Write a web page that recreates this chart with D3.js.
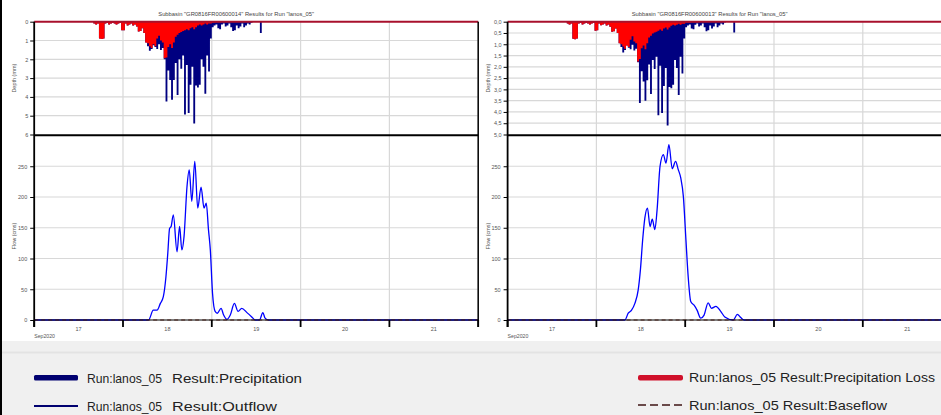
<!DOCTYPE html>
<html>
<head>
<meta charset="utf-8">
<script src="https://cdn.jsdelivr.net/npm/d3@7"></script>
<style>
  body { margin: 0; background: #fff; }
  svg { display: block; font-family: "Liberation Sans", Arial, sans-serif; }
</style>
</head>
<body>
<svg id="chart" width="941" height="415"></svg>
<script>
// ---- data ----
const days = ["17", "18", "19", "20", "21"];
const monthLabel = "Sep2020";
const hyetoStartHour = 16;   // first half-hour interval, hours after 17 Sep 00:00
const hyetoStepMin = 30;

// subbasin GR0816FR00600014, incremental depth per half hour (mm)
const precipA = [
  0.10, 0.15, 0.10, 0.90, 0.92, 0.90, 0.10, 0.05, 0.15, 0.10,
  0.05, 0.10, 0.15, 0.10, 0.05, 0.45, 0.45, 0.10, 0.20, 0.15,
  0.10, 0.20, 0.15, 0.25, 0.52, 0.50, 0.35, 0.60, 1.10, 1.30,
  1.55, 1.45, 1.25, 1.35, 1.45, 1.20, 1.50, 1.40, 2.00, 4.25,
  2.60, 3.10, 4.15, 3.10, 2.20, 3.90, 2.00, 2.50, 1.80, 4.94,
  2.30, 4.85, 3.35, 2.40, 5.42, 3.40, 3.50, 3.35, 2.00, 2.40,
  3.83, 1.80, 2.65, 0.90, 0.30, 0.20, 0.15, 0.35, 0.40, 0.15,
  0.10, 0.25, 0.20, 0.10, 0.30, 0.50, 0.45, 0.20, 0.35, 0.25,
  0.10, 0.30, 0.20, 0.10, 0.15, 0.05, 0, 0, 0, 0,
  0.60, 0
];
const lossA = [
  0.10, 0.15, 0.10, 0.90, 0.92, 0.90, 0.10, 0.05, 0.15, 0.10,
  0.05, 0.10, 0.15, 0.10, 0.05, 0.45, 0.45, 0.10, 0.20, 0.15,
  0.10, 0.20, 0.15, 0.25, 0.52, 0.50, 0.35, 0.60, 1.10, 1.15,
  1.30, 1.40, 1.20, 1.30, 0.90, 0.75, 1.00, 1.10, 1.95, 1.90,
  1.35, 1.20, 1.40, 1.10, 0.80, 0.70, 0.60, 0.55, 0.50, 0.45,
  0.40, 0.45, 0.35, 0.30, 0.40, 0.30, 0.20, 0.15, 0.20, 0.15,
  0.10, 0.15, 0.10, 0.10, 0.05, 0.04, 0.03, 0.03, 0.03, 0.02,
  0.02, 0.02, 0.02, 0.01, 0.01, 0.01, 0.01, 0.01, 0, 0,
  0, 0, 0, 0, 0, 0, 0, 0, 0, 0,
  0, 0
];
// subbasin GR0816FR00600013
const precipB = [
  0.08, 0.12, 0.08, 0.76, 0.78, 0.74, 0.08, 0.05, 0.12, 0.08,
  0.05, 0.08, 0.12, 0.08, 0.05, 0.40, 0.38, 0.08, 0.16, 0.12,
  0.08, 0.17, 0.12, 0.22, 0.44, 0.42, 0.30, 0.50, 0.95, 1.12,
  1.37, 1.25, 1.05, 1.15, 1.22, 1.02, 1.28, 1.20, 1.80, 3.60,
  2.20, 2.65, 3.50, 2.60, 1.90, 3.20, 1.70, 2.10, 1.55, 4.15,
  1.95, 4.05, 2.85, 2.05, 4.60, 2.90, 2.95, 2.80, 1.70, 2.05,
  3.25, 1.55, 2.30, 0.75, 0.25, 0.17, 0.12, 0.30, 0.34, 0.13,
  0.08, 0.21, 0.17, 0.08, 0.25, 0.42, 0.38, 0.17, 0.30, 0.21,
  0.08, 0.25, 0.17, 0.08, 0.12, 0.04, 0, 0, 0, 0,
  0.48, 0
];
const lossB = [
  0.08, 0.12, 0.08, 0.76, 0.78, 0.74, 0.08, 0.05, 0.12, 0.08,
  0.05, 0.08, 0.12, 0.08, 0.05, 0.40, 0.38, 0.08, 0.16, 0.12,
  0.08, 0.17, 0.12, 0.22, 0.44, 0.42, 0.30, 0.50, 0.95, 1.00,
  1.10, 1.20, 1.05, 1.12, 0.80, 0.65, 0.88, 0.95, 1.76, 1.65,
  1.18, 1.05, 1.22, 0.95, 0.70, 0.62, 0.52, 0.48, 0.44, 0.40,
  0.35, 0.40, 0.30, 0.26, 0.35, 0.26, 0.18, 0.13, 0.17, 0.13,
  0.09, 0.13, 0.09, 0.09, 0.04, 0.03, 0.03, 0.02, 0.02, 0.02,
  0.02, 0.01, 0.01, 0.01, 0.01, 0.01, 0.01, 0.01, 0, 0,
  0, 0, 0, 0, 0, 0, 0, 0, 0, 0,
  0, 0
];

// outflow (cms) at hours after 17 Sep 00:00
const flowHoursA = [0, 30.9, 32.2, 33.2, 34.1, 34.9, 35.6, 36.1, 36.6, 37.0, 37.6, 38.6, 39.3, 39.9, 40.5,
  41.3, 41.9, 42.6, 43.4, 44.2, 45.1, 45.9, 46.5, 47.1, 47.6, 48.2, 48.9, 49.5, 50.5, 51.2, 52.1,
  53.0, 54.1, 55.1, 56.1, 57.5, 58.8, 59.7, 60.9, 61.8, 62.4, 63.3, 120];
const flowA = [0, 0, 16, 16, 27, 38, 70, 108, 149, 152, 171, 111, 152, 114, 136,
  217, 244, 193, 258, 182, 216, 182, 190, 147, 114, 43, 14, 11, 19, 8, 1,
  8, 27, 14, 19, 12, 5, 0, 0, 12, 3, 0, 0];
const flowHoursB = [0, 31.7, 32.6, 33.5, 34.4, 35.3, 35.9, 36.5, 37.1, 37.8, 38.5, 39.1, 39.8, 40.4,
  41.2, 42.1, 42.8, 43.6, 44.5, 45.4, 46.1, 46.8, 47.5, 48.2, 48.8, 49.5, 50.4, 51.2, 52.2,
  53.1, 54.2, 55.1, 56.3, 57.6, 58.7, 61.0, 62.1, 63.0, 63.9, 120];
const flowB = [0, 0, 11, 16, 27, 49, 82, 130, 166, 182, 152, 164, 147, 179,
  250, 269, 255, 285, 246, 258, 245, 231, 201, 130, 71, 30, 24, 16, 3,
  8, 28, 19, 22, 14, 5, 0, 9, 4, 0, 0];

const depthTicksA = [0, 1, 2, 3, 4, 5, 6];
const depthTicksB = [0, 0.5, 1, 1.5, 2, 2.5, 3, 3.5, 4, 4.5, 5];
const flowTicks = [0, 50, 100, 150, 200, 250];
const titleA = 'Subbasin "GR0816FR00600014" Results for Run "lanos_05"';
const titleB = 'Subbasin "GR0816FR00600013" Results for Run "lanos_05"';

// ---- drawing ----
const svg = d3.select("#chart");
const t0 = new Date(Date.UTC(2020, 8, 17));
const dayW = 88.8;

function drawChart(left, cfg) {
  const g = svg.append("g");
  const x = d3.scaleUtc()
    .domain([t0, d3.utcDay.offset(t0, 5)])
    .range([left, left + 5 * dayW]);
  const yD = d3.scaleLinear().domain([0, cfg.depthMax]).range([21.7, 134.5]);
  const yF = d3.scaleLinear().domain([0, 300]).range([320, 135.5]);
  const [x0, x1] = x.range();
  const dayLines = d3.utcDay.range(t0, d3.utcDay.offset(t0, 6));

  // grid
  g.append("g").selectAll("line").data(dayLines.slice(1)).join("line")
    .attr("x1", d => x(d)).attr("x2", d => x(d))
    .attr("y1", yD(0)).attr("y2", yF(0))
    .attr("stroke", "#d8d8d8").attr("stroke-width", 1.2);
  g.append("g").selectAll("line").data(cfg.depthTicks.slice(1, -1)).join("line")
    .attr("x1", x0).attr("x2", x1).attr("y1", d => yD(d)).attr("y2", d => yD(d))
    .attr("stroke", "#d8d8d8").attr("stroke-width", 1.2);
  g.append("g").selectAll("line").data(flowTicks.slice(1)).join("line")
    .attr("x1", x0).attr("x2", x1).attr("y1", d => yF(d)).attr("y2", d => yF(d))
    .attr("stroke", "#d8d8d8").attr("stroke-width", 1.2);

  // hyetograph as stepped areas
  const stepTime = k => d3.utcMinute.offset(t0, hyetoStartHour * 60 + k * hyetoStepMin);
  const steps = vals => vals.map((v, k) => ({ t: stepTime(k), v }))
    .concat([{ t: stepTime(vals.length), v: 0 }]);
  const area = d3.area().curve(d3.curveStepAfter)
    .x(d => x(d.t)).y0(yD(0)).y1(d => yD(d.v));
  g.append("path").attr("d", area(steps(cfg.precip))).attr("fill", "#000080");
  g.append("path").attr("d", area(steps(cfg.loss))).attr("fill", "#ff0000");
  g.append("line").attr("x1", x0).attr("x2", x1).attr("y1", yD(0)).attr("y2", yD(0))
    .attr("stroke", "#a8102c").attr("stroke-width", 2);

  // outflow + baseflow
  const flowPts = cfg.flowHours.map((h, i) => ({ t: d3.utcMinute.offset(t0, h * 60), v: cfg.flow[i] }));
  const line = d3.line().curve(d3.curveMonotoneX).x(d => x(d.t)).y(d => yF(d.v));
  g.append("path").attr("d", line(flowPts)).attr("fill", "none")
    .attr("stroke", "#0000ff").attr("stroke-width", 1.3);
  g.append("line").attr("x1", x0).attr("x2", x1).attr("y1", yF(0)).attr("y2", yF(0))
    .attr("stroke", "#8a3a2a").attr("stroke-width", 1).attr("stroke-dasharray", "4,3");

  // frame / dividers
  g.append("line").attr("x1", x0).attr("x2", x1).attr("y1", 135.2).attr("y2", 135.2)
    .attr("stroke", "#000").attr("stroke-width", 2);
  g.append("line").attr("x1", x1).attr("x2", x1).attr("y1", yD(0)).attr("y2", 327)
    .attr("stroke", "#000").attr("stroke-width", 1.5);

  // y axes
  const axD = d3.axisLeft(yD).tickValues(cfg.depthTicks).tickSize(4).tickPadding(2)
    .tickFormat(cfg.depthFmt);
  const axF = d3.axisLeft(yF).tickValues(flowTicks).tickSize(4).tickPadding(3)
    .tickFormat(d3.format("d"));
  [axD, axF].forEach(ax => {
    const a = g.append("g").attr("transform", `translate(${x0},0)`).call(ax);
    a.select(".domain").remove();
    a.selectAll("line").attr("stroke", "#000").attr("stroke-width", 1);
    a.selectAll("text").attr("font-size", 5.5).attr("fill", "#555").attr("font-family", null);
  });
  g.append("line").attr("x1", x0).attr("x2", x0).attr("y1", yD(0)).attr("y2", 327)
    .attr("stroke", "#000").attr("stroke-width", 1.8);

  // x axis
  g.append("line").attr("x1", x0).attr("x2", x1).attr("y1", yF(0)).attr("y2", yF(0))
    .attr("stroke", "#000").attr("stroke-width", 1);
  g.append("g").selectAll("line").data(dayLines).join("line")
    .attr("x1", d => x(d)).attr("x2", d => x(d)).attr("y1", yF(0)).attr("y2", 327)
    .attr("stroke", "#000").attr("stroke-width", 1.8);
  g.append("g").selectAll("text").data(days).join("text")
    .attr("x", (d, i) => x(d3.utcHour.offset(dayLines[i], 12)))
    .attr("y", 331).attr("text-anchor", "middle")
    .attr("font-size", 5.5).attr("fill", "#555").text(d => d);
  g.append("text").attr("x", x0).attr("y", 338).attr("font-size", 5.2)
    .attr("fill", "#555").text(monthLabel);

  // titles
  g.append("text").attr("x", x0 + 202).attr("y", 15.5).attr("text-anchor", "middle")
    .attr("font-size", 5.8).attr("fill", "#444").text(cfg.title);
  g.append("text").attr("transform", `translate(${x0 - 18},${(yD(0) + yD(cfg.depthMax)) / 2}) rotate(-90)`)
    .attr("text-anchor", "middle").attr("font-size", 5.5).attr("fill", "#555").text("Depth (mm)");
  g.append("text").attr("transform", `translate(${x0 - 18},236) rotate(-90)`)
    .attr("text-anchor", "middle").attr("font-size", 5.5).attr("fill", "#555").text("Flow (cms)");
}

drawChart(34.2, { depthMax: 6, depthTicks: depthTicksA, depthFmt: d3.format("d"),
  precip: precipA, loss: lossA, flowHours: flowHoursA, flow: flowA, title: titleA });
drawChart(507.6, { depthMax: 5, depthTicks: depthTicksB, depthFmt: d => d3.format(".1f")(d).replace(".", ","),
  precip: precipB, loss: lossB, flowHours: flowHoursB, flow: flowB, title: titleB });

// legend panel
svg.append("rect").attr("x", 0).attr("y", 341).attr("width", 941).attr("height", 74).attr("fill", "#f0f0f0");
svg.append("line").attr("x1", 0).attr("x2", 941).attr("y1", 352.5).attr("y2", 352.5)
  .attr("stroke", "#e3e3e3").attr("stroke-width", 2);
svg.append("rect").attr("x", 0).attr("y", 0).attr("width", 2).attr("height", 415).attr("fill", "#000");

// narrow legend type: Liberation Sans squeezed to the widths seen in the screenshot
const legendItems = [
  { x: 87,  y: 383, w: 75,  text: "Run:lanos_05" },
  { x: 172, y: 383, w: 130, text: "Result:Precipitation" },
  { x: 87,  y: 411, w: 75,  text: "Run:lanos_05" },
  { x: 172, y: 411, w: 105, text: "Result:Outflow" },
  { x: 689, y: 382, w: 246, text: "Run:lanos_05 Result:Precipitation Loss" },
  { x: 689, y: 410, w: 198, text: "Run:lanos_05 Result:Baseflow" }
];
const lg = svg.append("g").attr("font-size", 13.5).attr("fill", "#222");
lg.append("rect").attr("x", 34).attr("y", 375).attr("width", 44).attr("height", 5.5).attr("rx", 1.5).attr("fill", "#000070");
lg.append("line").attr("x1", 34).attr("x2", 78).attr("y1", 406).attr("y2", 406).attr("stroke", "#000070").attr("stroke-width", 2);
lg.append("rect").attr("x", 638).attr("y", 375).attr("width", 45).attr("height", 5.5).attr("rx", 2).attr("fill", "#d0102a");
lg.append("line").attr("x1", 638).attr("x2", 683).attr("y1", 405).attr("y2", 405)
  .attr("stroke", "#6a4a4a").attr("stroke-width", 2).attr("stroke-dasharray", "8,4");
lg.selectAll("text.item").data(legendItems).join("text").attr("class", "item")
  .attr("x", d => d.x).attr("y", d => d.y)
  .attr("textLength", d => d.w).attr("lengthAdjust", "spacingAndGlyphs")
  .text(d => d.text);
</script>
</body>
</html>
